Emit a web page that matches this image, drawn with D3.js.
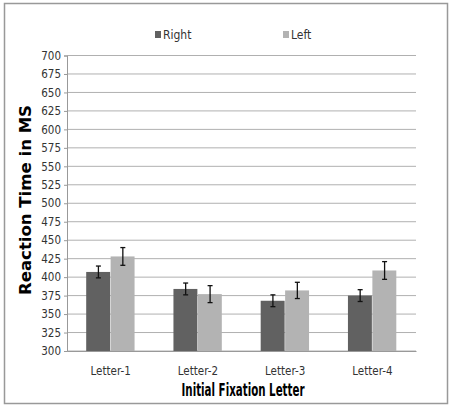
<!DOCTYPE html>
<html><head><meta charset="utf-8">
<script src="https://cdn.jsdelivr.net/npm/d3@7"></script>
<style>body{margin:0;background:#fff}</style>
</head><body><svg></svg>
<script>
const categories = ["Letter-1", "Letter-2", "Letter-3", "Letter-4"];
const series = ["Right", "Left"];
const rightValues = [407, 384, 368, 375];
const leftValues = [428, 377, 382, 409];
const rightErrors = [8, 8, 8, 8];
const leftErrors = [12, 11.5, 11, 12];
const yTicks = d3.range(300, 701, 25);

const width = 454, height = 408;
const colors = {Right: "#616161", Left: "#b3b3b3"};
const narrow = "'DejaVu Sans Condensed', 'Liberation Sans Narrow', sans-serif";

const svg = d3.select("svg").attr("width", width).attr("height", height);

svg.append("rect").attr("x", 4.5).attr("y", 3.5).attr("width", 443).attr("height", 400)
    .attr("fill", "none").attr("stroke", "#999").attr("stroke-width", 1.5);

const x0 = d3.scaleBand().domain(categories).range([67, 416]).paddingInner(0.44).paddingOuter(0.22);
const x1 = d3.scaleBand().domain(series).range([0, x0.bandwidth()]);
const y = d3.scaleLinear().domain([300, 700]).range([351, 55.5]);

// grid lines
svg.append("g").selectAll("line").data(yTicks).join("line")
    .attr("x1", 67).attr("x2", 416).attr("y1", d => y(d)).attr("y2", d => y(d))
    .attr("stroke", "#b0b0b0").attr("stroke-width", 1);

const yAxis = svg.append("g").attr("transform", "translate(67,0)")
    .call(d3.axisLeft(y).tickValues(yTicks).tickSize(3).tickPadding(3));
yAxis.select(".domain").attr("stroke", "#999");
yAxis.selectAll(".tick line").attr("stroke", "#999");
yAxis.selectAll("text").attr("font-family", narrow).attr("font-size", 11.5).attr("fill", "#333");

const rows = categories.map((c, i) => [
    {cat: c, s: "Right", v: rightValues[i], e: rightErrors[i]},
    {cat: c, s: "Left", v: leftValues[i], e: leftErrors[i]}
]).flat();

svg.append("g").selectAll("rect").data(rows).join("rect")
    .attr("x", d => x0(d.cat) + x1(d.s))
    .attr("y", d => y(d.v))
    .attr("width", x1.bandwidth() - 0.5)
    .attr("height", d => y(300) - y(d.v))
    .attr("fill", d => colors[d.s]);

// error bars
const eb = svg.append("g").attr("stroke", "#111").attr("stroke-width", 1.3);
rows.forEach(d => {
    const cx = x0(d.cat) + x1(d.s) + x1.bandwidth() / 2;
    eb.append("line").attr("x1", cx).attr("x2", cx).attr("y1", y(d.v + d.e)).attr("y2", y(d.v - d.e));
    [d.v + d.e, d.v - d.e].forEach(v => eb.append("line")
        .attr("x1", cx - 2.5).attr("x2", cx + 2.5).attr("y1", y(v)).attr("y2", y(v)));
});

const xAxis = svg.append("g").attr("transform", "translate(0,351)")
    .call(d3.axisBottom(x0).tickSize(0).tickPadding(16));
xAxis.select(".domain").attr("stroke", "#999");
xAxis.selectAll("text").attr("font-family", narrow).attr("font-size", 11.5).attr("fill", "#333");

svg.append("text").attr("x", 243).attr("y", 396).attr("text-anchor", "middle")
    .attr("font-family", narrow).attr("font-weight", "bold").attr("font-size", 17)
    .attr("textLength", 123).attr("lengthAdjust", "spacingAndGlyphs")
    .text("Initial Fixation Letter");

svg.append("text").attr("transform", "translate(31,200) rotate(-90)").attr("text-anchor", "middle")
    .attr("font-family", "'DejaVu Sans', sans-serif").attr("font-weight", "bold").attr("font-size", 16)
    .attr("textLength", 190).attr("lengthAdjust", "spacingAndGlyphs")
    .text("Reaction Time in MS");

// legend
const legendX = [155, 283];
series.forEach((s, i) => {
    svg.append("rect").attr("x", legendX[i]).attr("y", 31).attr("width", 6).attr("height", 7).attr("fill", colors[s]);
    svg.append("text").attr("x", legendX[i] + 8).attr("y", 39)
        .attr("font-family", narrow).attr("font-size", 12).attr("fill", "#333").text(s);
});
</script>
</body></html>
